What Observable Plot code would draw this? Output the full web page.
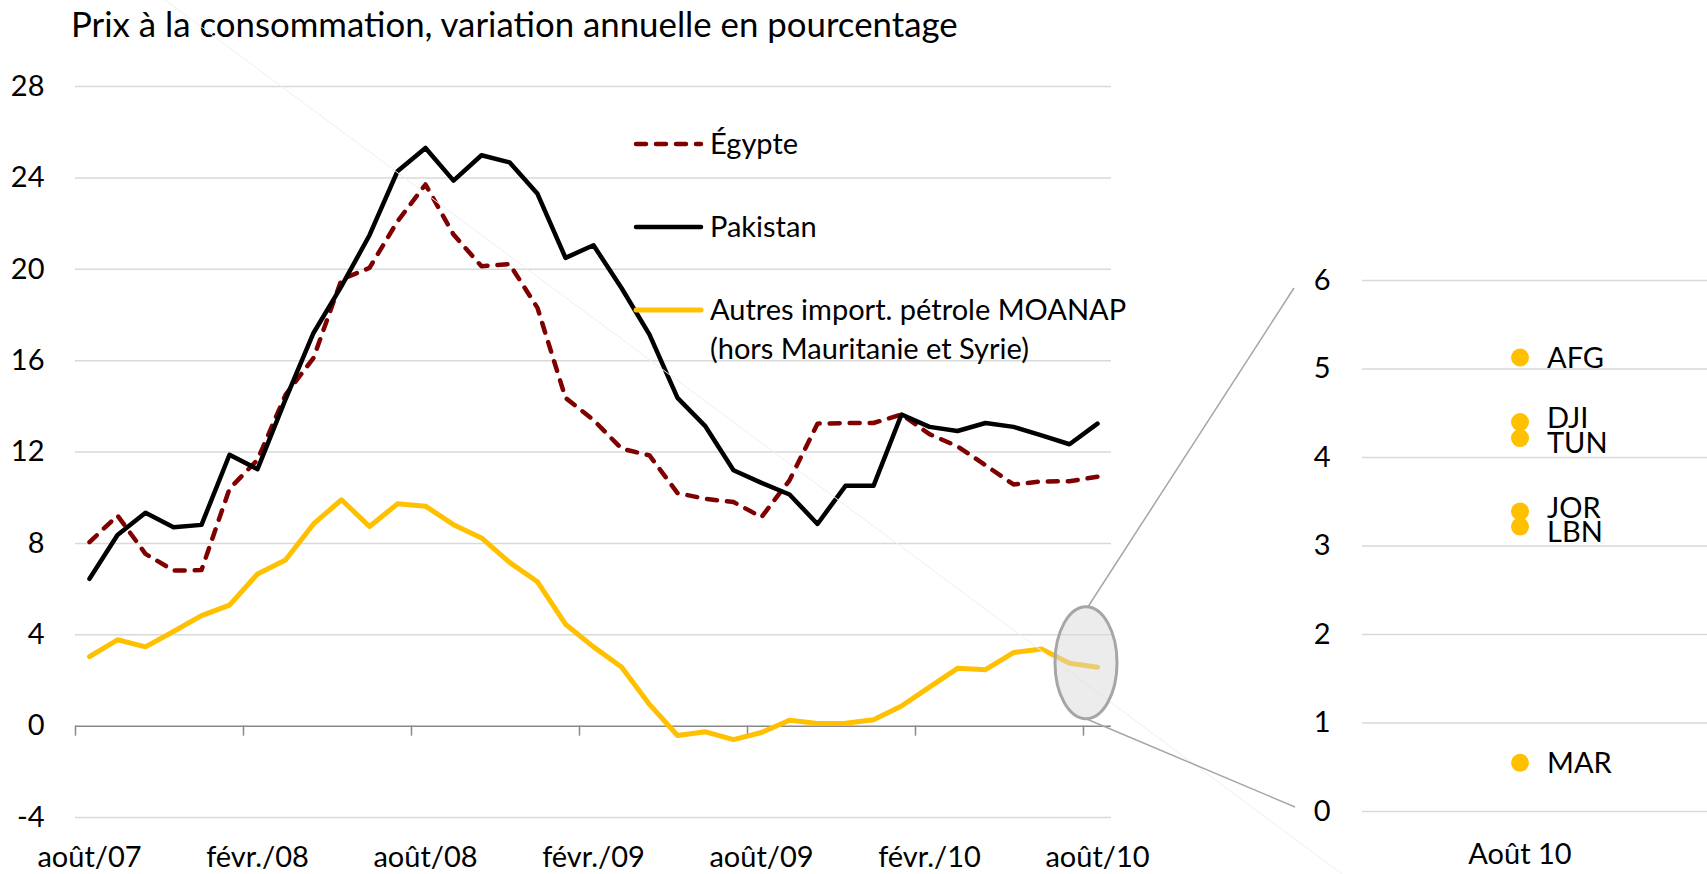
<!DOCTYPE html>
<html><head><meta charset="utf-8">
<script src="https://cdn.jsdelivr.net/npm/d3@7"></script>
<script src="https://cdn.jsdelivr.net/npm/@observablehq/plot@0.6"></script>
<style>
html,body{margin:0;padding:0;background:#fff;}
#root{position:relative;width:1707px;height:874px;overflow:hidden;font-family:Lato,sans-serif;color:#000;}
#title{position:absolute;left:71px;top:4px;height:40px;line-height:40px;font-size:34.8px;white-space:nowrap;}
#plots{position:absolute;left:0;top:60px;width:1707px;height:814px;}
#plots svg{position:absolute;top:0;}
#overlay{position:absolute;left:0;top:0;pointer-events:none;}
</style></head>
<body><div id="root"><div id="title">Prix à la consommation, variation annuelle en pourcentage</div><div id="plots"></div></div>
<script>
// ---- data ----
const months = ["août/07","sept./07","oct./07","nov./07","déc./07","janv./08","févr./08","mars/08","avr./08","mai/08","juin/08","juil./08",
  "août/08","sept./08","oct./08","nov./08","déc./08","janv./09","févr./09","mars/09","avr./09","mai/09","juin/09","juil./09",
  "août/09","sept./09","oct./09","nov./09","déc./09","janv./10","févr./10","mars/10","avr./10","mai/10","juin/10","juil./10","août/10"];
const egypte = [8.05,9.22,7.54,6.81,6.83,10.39,11.66,14.5,16.12,19.55,20.06,22.10,23.71,21.52,20.13,20.23,18.31,14.37,13.4,12.15,11.85,10.20,9.95,9.81,9.15,10.76,13.24,13.27,13.27,13.64,12.78,12.25,11.42,10.58,10.71,10.72,10.92];
const pakistan = [6.45,8.37,9.34,8.71,8.81,11.88,11.25,14.3,17.21,19.26,21.49,24.29,25.31,23.88,24.99,24.68,23.30,20.50,21.05,19.18,17.14,14.37,13.12,11.20,10.65,10.14,8.85,10.52,10.52,13.64,13.10,12.92,13.27,13.10,12.73,12.34,13.24];
const autres = [3.04,3.78,3.47,4.14,4.84,5.30,6.66,7.27,8.85,9.91,8.74,9.73,9.63,8.82,8.24,7.17,6.32,4.46,3.47,2.59,0.95,-0.41,-0.25,-0.59,-0.28,0.26,0.12,0.13,0.28,0.88,1.71,2.53,2.47,3.22,3.38,2.75,2.58];
const seriesNames = ["Égypte","Pakistan","Autres import. pétrole MOANAP","(hors Mauritanie et Syrie)"];
const yTicksMain = [-4,0,4,8,12,16,20,24,28];
const zoomCategory = "Août 10";
const countries = ["AFG","DJI","TUN","JOR","LBN","MAR"];
const aout10 = [5.13,4.40,4.22,3.39,3.22,0.55];
const yTicksZoom = [0,1,2,3,4,5,6];

// ---- styles ----
const RED = "#7f0000", BLACK = "#000000", GOLD = "#ffc000", GRID = "#d9d9d9", AXIS = "#898989";
const FONT = "Lato, sans-serif", FS = 29;
const TOP = 60, W1 = 1150, H = 814, W2 = 1707 - W1;

const data = months.map((m, i) => ({i, month: m, egypte: egypte[i], pakistan: pakistan[i], autres: autres[i]}));
const tickIdx = months.map((m, i) => i).filter(i => i % 6 === 0);
const bounds = tickIdx.map(i => i - 0.5);

const main = Plot.plot({
  width: W1, height: H,
  marginTop: 26, marginBottom: 57, marginLeft: 75, marginRight: 39,
  x: {type: "linear", domain: [-0.5, months.length - 0.5], label: null},
  y: {domain: [-4, 28], label: null},
  style: {fontFamily: FONT, fontSize: FS + "px", color: "#000", background: "transparent", overflow: "visible"},
  marks: [
    Plot.gridY(yTicksMain.filter(d => d !== 0), {stroke: GRID, strokeOpacity: 1, strokeWidth: 1.5}),
    Plot.ruleY([0], {stroke: AXIS, strokeWidth: 1.5}),
    Plot.ruleX(bounds, {x: d => d, y1: () => 0, y2: () => 0, insetBottom: -10, stroke: AXIS, strokeWidth: 1.5}),
    Plot.axisY(yTicksMain, {tickSize: 0, tickPadding: 31, tickFormat: d => String(d), fontSize: FS, label: null}),
    Plot.axisX(tickIdx, {tickSize: 0, tickPadding: 29, tickFormat: i => months[i], fontSize: FS, label: null}),
    Plot.line(data, {x: "i", y: "egypte", stroke: RED, strokeWidth: 4.5, strokeDasharray: "10,10", strokeLinecap: "round", strokeLinejoin: "round"}),
    Plot.line(data, {x: "i", y: "pakistan", stroke: BLACK, strokeWidth: 4.5, strokeLinejoin: "round"}),
    Plot.line(data, {x: "i", y: "autres", stroke: GOLD, strokeWidth: 5, strokeLinejoin: "round"})
  ]
});
main.style.left = "0px";
document.getElementById("plots").appendChild(main);

// zoom panel
const pts = countries.map((c, k) => ({c, v: aout10[k], cat: zoomCategory}));
// labels of close neighbours are nudged apart
const nudge = pts.map((p, k) => {
  const near = pts.filter((q, j) => j !== k && Math.abs(q.v - p.v) < 0.3);
  if (!near.length) return 1;
  return near.some(q => q.v < p.v) ? -3 : 6;
});
pts.forEach((p, k) => p.dy = nudge[k]);

const right = Plot.plot({
  width: W2, height: H,
  marginTop: 220, marginBottom: 63, marginLeft: 212, marginRight: 30,
  x: {type: "band", domain: [zoomCategory], label: null},
  y: {domain: [0, 6], label: null},
  style: {fontFamily: FONT, fontSize: FS + "px", color: "#000", background: "transparent", overflow: "visible"},
  marks: [
    Plot.gridY(yTicksZoom, {stroke: GRID, strokeOpacity: 1, strokeWidth: 1.5, insetRight: -30}),
    Plot.axisY(yTicksZoom, {tickSize: 0, tickPadding: 32, tickFormat: d => String(d), fontSize: FS, label: null}),
    Plot.axisX([zoomCategory], {tickSize: 0, tickPadding: 32, fontSize: FS, label: null}),
    Plot.dot(pts, {x: "cat", y: "v", r: 9, fill: GOLD}),
    Plot.text(pts.filter(p => p.dy === 1), {x: "cat", y: "v", text: "c", dx: 27, dy: 1, textAnchor: "start", fontSize: FS}),
    Plot.text(pts.filter(p => p.dy === -3), {x: "cat", y: "v", text: "c", dx: 27, dy: -3, textAnchor: "start", fontSize: FS}),
    Plot.text(pts.filter(p => p.dy === 6), {x: "cat", y: "v", text: "c", dx: 27, dy: 6, textAnchor: "start", fontSize: FS})
  ]
});
right.style.left = W1 + "px";
document.getElementById("plots").appendChild(right);

// ---- overlay: zoom ellipse, connectors, legend ----
const xs = main.scale("x"), ys = main.scale("y"), yr = right.scale("y");
const svg = d3.select("#root").append("svg").attr("id", "overlay").attr("width", 1707).attr("height", 874)
  .style("font-family", FONT).style("font-size", FS + "px");

svg.append("line").attr("x1", 165).attr("y1", 0).attr("x2", 1342).attr("y2", 874)
  .attr("stroke", "#efefef").attr("stroke-width", 1);

const n = months.length;
const cx = (xs.apply(n - 2) + xs.apply(n - 1)) / 2 + 3;
const cy = TOP + ys.apply((autres[n - 2] + autres[n - 1]) / 2) - 2;
const rx = 31, ry = 56;
const connX = W1 + 212 - 68;
svg.append("line").attr("x1", cx + 2).attr("y1", cy - ry).attr("x2", connX).attr("y2", TOP + yr.apply(6) + 8)
  .attr("stroke", "#a6a6a6").attr("stroke-width", 1.5);
svg.append("line").attr("x1", cx).attr("y1", cy + ry).attr("x2", connX + 1).attr("y2", TOP + yr.apply(0) - 4)
  .attr("stroke", "#a6a6a6").attr("stroke-width", 1.5);
svg.append("ellipse").attr("cx", cx).attr("cy", cy).attr("rx", rx).attr("ry", ry)
  .attr("fill", "#d9d9d9").attr("fill-opacity", 0.5).attr("stroke", "#a6a6a6").attr("stroke-width", 3);

const leg = [
  {y: 144, stroke: RED, dash: "10,10", w: 4.5, lines: [seriesNames[0]]},
  {y: 227, stroke: BLACK, dash: null, w: 4.5, lines: [seriesNames[1]]},
  {y: 310, stroke: GOLD, dash: null, w: 5, lines: [seriesNames[2], seriesNames[3]]}
];
leg.forEach(l => {
  const ln = svg.append("line").attr("x1", 636).attr("x2", 701).attr("y1", l.y).attr("y2", l.y)
    .attr("stroke", l.stroke).attr("stroke-width", l.w).attr("stroke-linecap", "round");
  if (l.dash) ln.attr("stroke-dasharray", l.dash);
  l.lines.forEach((t, k) => svg.append("text").attr("x", 710).attr("y", l.y + 10 + k * 38.5).attr("fill", "#000").text(t));
});
</script></body></html>
